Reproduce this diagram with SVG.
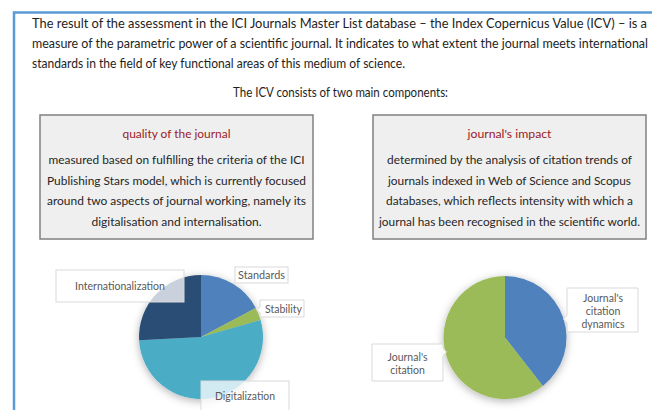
<svg xmlns="http://www.w3.org/2000/svg" width="652" height="410" viewBox="0 0 652 410">
<defs>
<style>
.p{font-family:Lato,"Open Sans","Liberation Sans",sans-serif;font-size:12.5px;fill:#1e1e1e}
.bt{font-family:Lato,"Open Sans","Liberation Sans",sans-serif;font-size:12px;fill:#262626;text-anchor:middle}
.ti{font-family:Lato,"Open Sans","Liberation Sans",sans-serif;font-size:12px;fill:#9b1c1f;text-anchor:middle}
.box{fill:#efefef;stroke:#808080;stroke-width:1.5}
.lb{fill:#ffffff;fill-opacity:0.75;stroke:#d9d9d9;stroke-width:1}
.lt{font-family:Lato,"Open Sans","Liberation Sans",sans-serif;font-size:10.5px;fill:#595959;text-anchor:middle}
</style>
<filter id="sh" x="-30%" y="-30%" width="160%" height="160%">
<feDropShadow dx="0" dy="2" stdDeviation="4" flood-color="#000" flood-opacity="0.3"/>
</filter>
</defs>
<rect width="652" height="410" fill="#ffffff"/>
<g id="frame">
<path d="M14,410 L14,12.5 L652,12.5" fill="none" stroke="#5b9bd5" stroke-width="2.5"/>
</g>
<g id="intro">
<text class="p" x="32" y="28" textLength="615" lengthAdjust="spacingAndGlyphs">The result of the assessment in the ICI Journals Master List database – the Index Copernicus Value (ICV) – is a</text>
<text class="p" x="32" y="48" textLength="616" lengthAdjust="spacingAndGlyphs">measure of the parametric power of a scientific journal. It indicates to what extent the journal meets international</text>
<text class="p" x="32" y="68" textLength="373" lengthAdjust="spacingAndGlyphs">standards in the field of key functional areas of this medium of science.</text>
<text class="p" x="233" y="97" textLength="215" lengthAdjust="spacingAndGlyphs">The ICV consists of two main components:</text>
</g>
<g id="box-quality">
<rect class="box" x="40" y="115" width="273" height="124"/>
<text class="ti" x="176.5" y="138" textLength="108" lengthAdjust="spacingAndGlyphs">quality of the journal</text>
<text class="bt" x="176.5" y="164" textLength="256" lengthAdjust="spacingAndGlyphs">measured based on fulfilling the criteria of the ICI</text>
<text class="bt" x="176.5" y="184.5" textLength="259" lengthAdjust="spacingAndGlyphs">Publishing Stars model, which is currently focused</text>
<text class="bt" x="176.5" y="205" textLength="259" lengthAdjust="spacingAndGlyphs">around two aspects of journal working, namely its</text>
<text class="bt" x="176.5" y="225.5" textLength="170" lengthAdjust="spacingAndGlyphs">digitalisation and internalisation.</text>
</g>
<g id="box-impact">
<rect class="box" x="373" y="115" width="273" height="124"/>
<text class="ti" x="509.5" y="138" textLength="84" lengthAdjust="spacingAndGlyphs">journal's impact</text>
<text class="bt" x="509.5" y="164" textLength="245" lengthAdjust="spacingAndGlyphs">determined by the analysis of citation trends of</text>
<text class="bt" x="509.5" y="184.5" textLength="243" lengthAdjust="spacingAndGlyphs">journals indexed in Web of Science and Scopus</text>
<text class="bt" x="509.5" y="205" textLength="247" lengthAdjust="spacingAndGlyphs">databases, which reflects intensity with which a</text>
<text class="bt" x="509.5" y="225.5" textLength="261" lengthAdjust="spacingAndGlyphs">journal has been recognised in the scientific world.</text>
</g>
<g id="pie-quality">
<g filter="url(#sh)">
<path id="slice-standards" d="M201,337 L201,275 A62,62 0 0 1 255.74,307.89 Z" fill="#4f81bd"/>
<path id="slice-stability" d="M201,337 L255.74,307.89 A62,62 0 0 1 260.6,319.91 Z" fill="#9bbb59"/>
<path id="slice-digitalization" d="M201,337 L260.6,319.91 A62,62 0 1 1 139.09,340.25 Z" fill="#4bacc6"/>
<path id="slice-internationalization" d="M201,337 L139.09,340.25 A62,62 0 0 1 201,275 Z" fill="#2c4d75"/>
</g>
<g id="label-internationalization">
<rect class="lb" x="56" y="270" width="128" height="32"/>
<text class="lt" x="120" y="290" textLength="90" lengthAdjust="spacingAndGlyphs">Internationalization</text>
</g>
<g id="label-standards">
<rect class="lb" x="235" y="267" width="53" height="16"/>
<text class="lt" x="261.5" y="279" textLength="47" lengthAdjust="spacingAndGlyphs">Standards</text>
</g>
<g id="label-stability">
<path class="lb" d="M260,300 L304,300 L304,317 L260,317 L260,313 L256.5,310 L260,307 Z"/>
<text class="lt" x="283.5" y="313" textLength="37" lengthAdjust="spacingAndGlyphs">Stability</text>
</g>
<g id="label-digitalization">
<rect class="lb" x="201" y="381" width="88" height="34"/>
<text class="lt" x="245" y="400" textLength="60" lengthAdjust="spacingAndGlyphs">Digitalization</text>
</g>
</g>
<g id="pie-impact">
<g filter="url(#sh)">
<path id="slice-dynamics" d="M505,337.5 L505,276 A61.5,61.5 0 0 1 542.86,385.96 Z" fill="#4f81bd"/>
<path id="slice-citation" d="M505,337.5 L542.86,385.96 A61.5,61.5 0 1 1 505,276 Z" fill="#9bbb59"/>
</g>
<g id="label-dynamics">
<path class="lb" d="M567,288 L638,288 L638,332 L567,332 L567,323 L563.5,319 L567,315 Z"/>
<text class="lt" x="603" y="302">Journal's</text>
<text class="lt" x="603" y="315">citation</text>
<text class="lt" x="603" y="328">dynamics</text>
</g>
<g id="label-citation">
<path class="lb" d="M372,344 L443,344 L443,348 L446.5,352 L443,356 L443,381 L372,381 Z"/>
<text class="lt" x="407.5" y="361">Journal's</text>
<text class="lt" x="407.5" y="374">citation</text>
</g>
</g>
</svg>
